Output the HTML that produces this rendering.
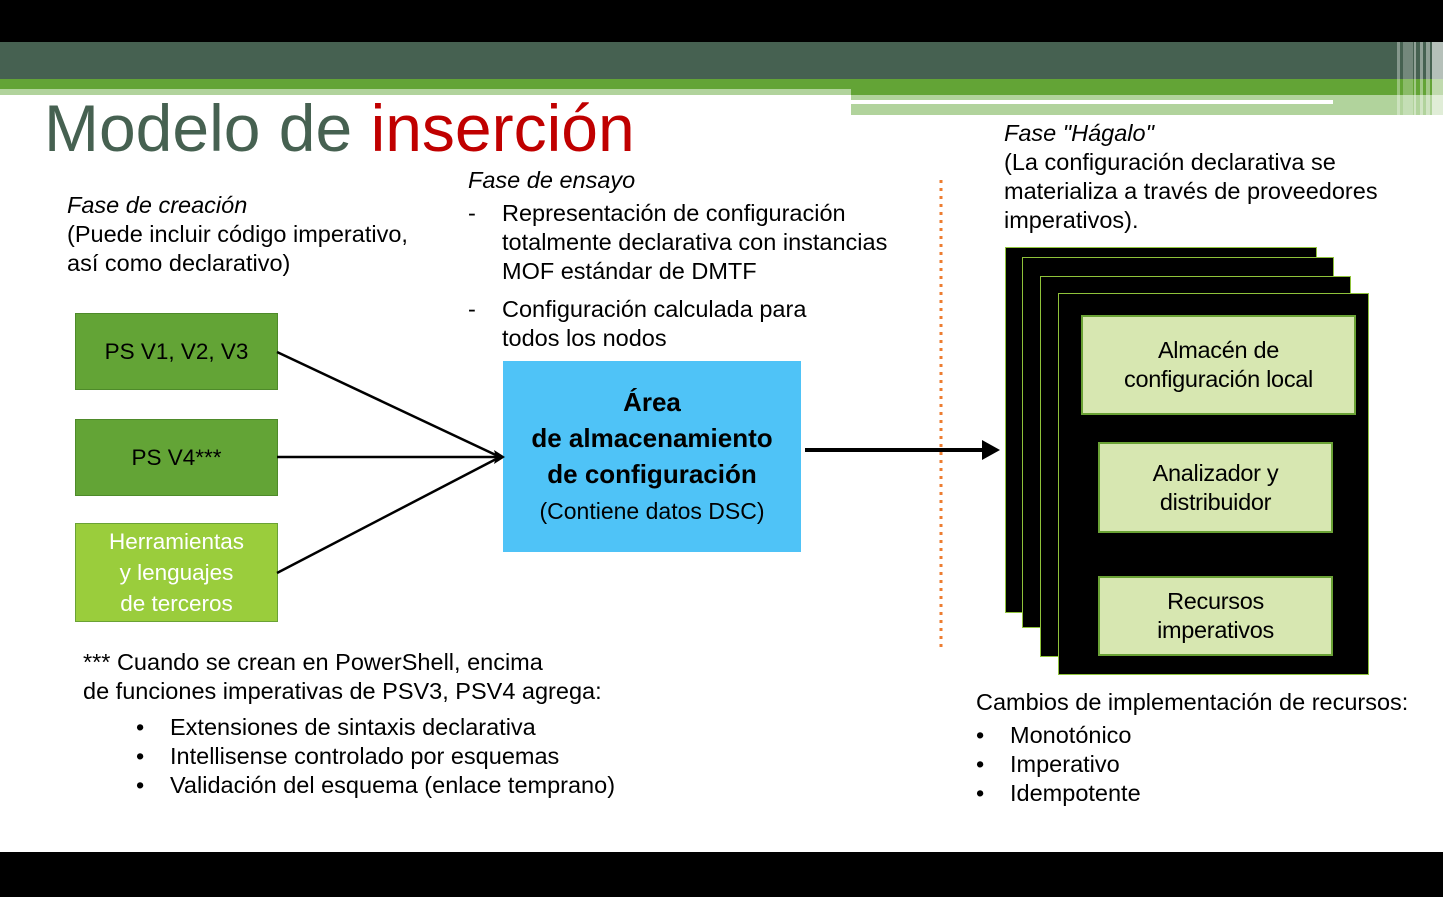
<!DOCTYPE html>
<html><head><meta charset="utf-8"><style>
*{margin:0;padding:0;box-sizing:border-box}
body{width:1443px;height:897px;position:relative;background:#fff;font-family:"Liberation Sans",sans-serif;overflow:hidden;color:#000}
.a{position:absolute}
.t{font-size:23.5px;line-height:29px;white-space:nowrap;letter-spacing:0}
.box{position:absolute;display:flex;align-items:center;justify-content:center;text-align:center;font-size:22.5px;line-height:31px;white-space:nowrap}
.stk{position:absolute;background:#000;border:1.5px solid #8fc23a}
.lg{position:absolute;background:#d7e7b1;border:2px solid #6aa235;display:flex;align-items:center;justify-content:center;text-align:center;font-size:23.5px;line-height:29px;white-space:nowrap;letter-spacing:-0.3px}
</style></head><body>
<div class="a" style="left:0;top:0;width:1443px;height:42px;background:#000"></div>
<div class="a" style="left:0;top:42px;width:1443px;height:37px;background:#466151"></div>
<div class="a" style="left:0;top:79px;width:1443px;height:16px;background:#63a436"></div>
<div class="a" style="left:0;top:89px;width:851px;height:6px;background:#b1d39c"></div>
<div class="a" style="left:851px;top:95px;width:592px;height:20px;background:#b1d39c"></div>
<div class="a" style="left:851px;top:100px;width:482px;height:4px;background:#fff"></div>
<div class="a" style="left:1397px;top:42px;width:3px;height:73px;background:rgba(255,255,255,.35)"></div>
<div class="a" style="left:1403px;top:42px;width:10px;height:73px;background:rgba(255,255,255,.25)"></div>
<div class="a" style="left:1414px;top:42px;width:2px;height:73px;background:rgba(255,255,255,.4)"></div>
<div class="a" style="left:1420px;top:42px;width:3px;height:73px;background:rgba(255,255,255,.4)"></div>
<div class="a" style="left:1426px;top:42px;width:4px;height:73px;background:rgba(255,255,255,.4)"></div>
<div class="a" style="left:1432px;top:42px;width:11px;height:73px;background:rgba(255,255,255,.6)"></div>
<div class="a" style="left:0;top:852px;width:1443px;height:45px;background:#000"></div>

<div class="a" style="left:44px;top:88px;font-size:66px;line-height:80px;color:#466151;white-space:nowrap">Modelo de <span style="color:#c00000">inserción</span></div>

<div class="a t" style="left:67px;top:191px"><i>Fase de creación</i><br>(Puede incluir código imperativo,<br>así como declarativo)</div>

<div class="a t" style="left:468px;top:166px"><i>Fase de ensayo</i></div>
<div class="a t" style="left:468px;top:199px">-</div>
<div class="a t" style="left:502px;top:199px">Representación de configuración<br>totalmente declarativa con instancias<br>MOF estándar de DMTF</div>
<div class="a t" style="left:468px;top:295px">-</div>
<div class="a t" style="left:502px;top:295px">Configuración calculada para<br>todos los nodos</div>

<div class="a t" style="left:1004px;top:119px"><i>Fase "Hágalo"</i><br>(La configuración declarativa se<br>materializa a través de proveedores<br>imperativos).</div>

<div class="box" style="left:75px;top:313px;width:203px;height:77px;background:#63a436;border:1px solid #4e8a2a">PS V1, V2, V3</div>
<div class="box" style="left:75px;top:419px;width:203px;height:77px;background:#63a436;border:1px solid #4e8a2a">PS V4***</div>
<div class="box" style="left:75px;top:523px;width:203px;height:99px;background:#9acd3c;border:1px solid #6aa235;color:#fff;line-height:31px">Herramientas<br>y lenguajes<br>de terceros</div>

<div class="box" style="left:503px;top:361px;width:298px;height:191px;background:#4fc3f7;font-size:26px;line-height:36px"><div><b>Área<br>de almacenamiento<br>de configuración</b><br><span style="font-size:23px">(Contiene datos DSC)</span></div></div>

<svg class="a" style="left:0;top:0" width="1443" height="897">
<line x1="277" y1="352" x2="500" y2="457" stroke="#000" stroke-width="2.5"/>
<line x1="277" y1="457" x2="500" y2="457" stroke="#000" stroke-width="2.5"/>
<line x1="277" y1="573" x2="500" y2="457" stroke="#000" stroke-width="2.5"/>
<polygon points="505,457 494,450 496,457 494,464" fill="#000"/>
<line x1="941" y1="180" x2="941" y2="652" stroke="#ed7d31" stroke-width="3" stroke-dasharray="3,5"/>
<line x1="805" y1="450" x2="985" y2="450" stroke="#000" stroke-width="4"/>
<polygon points="1000,450 982,440 982,460" fill="#000"/>
</svg>

<div class="stk" style="left:1005px;top:247px;width:312px;height:366px"></div>
<div class="stk" style="left:1022px;top:257px;width:312px;height:371px"></div>
<div class="stk" style="left:1040px;top:276px;width:311px;height:381px"></div>
<div class="stk" style="left:1058px;top:293px;width:311px;height:382px"></div>
<div class="lg" style="left:1081px;top:315px;width:275px;height:100px">Almacén de<br>configuración local</div>
<div class="lg" style="left:1098px;top:442px;width:235px;height:91px">Analizador y<br>distribuidor</div>
<div class="lg" style="left:1098px;top:576px;width:235px;height:80px">Recursos<br>imperativos</div>

<div class="a t" style="left:83px;top:648px">*** Cuando se crean en PowerShell, encima<br>de funciones imperativas de PSV3, PSV4 agrega:</div>
<div class="a t" style="left:136px;top:713px">•<br>•<br>•</div>
<div class="a t" style="left:170px;top:713px">Extensiones de sintaxis declarativa<br>Intellisense controlado por esquemas<br>Validación del esquema (enlace temprano)</div>

<div class="a t" style="left:976px;top:688px">Cambios de implementación de recursos:</div>
<div class="a t" style="left:976px;top:721px">•<br>•<br>•</div>
<div class="a t" style="left:1010px;top:721px">Monotónico<br>Imperativo<br>Idempotente</div>
</body></html>
